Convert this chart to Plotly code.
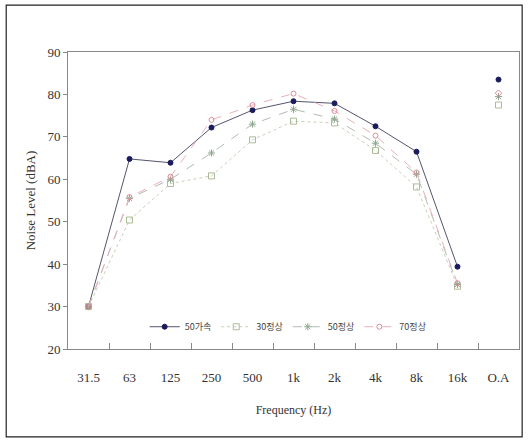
import plotly.graph_objects as go

categories = ["31.5", "63", "125", "250", "500", "1k", "2k", "4k", "8k", "16k", "O.A"]
band_cats = categories[:10]
oa_cat = ["O.A"]

accel50 = [30, 64.8, 63.9, 72.2, 76.3, 78.4, 77.9, 72.5, 66.5, 39.4]
steady30 = [30, 50.4, 59.0, 60.8, 69.3, 73.7, 73.3, 66.8, 58.2, 34.8]
steady50 = [30, 55.5, 60.0, 66.2, 73.0, 76.5, 74.2, 68.5, 61.2, 35.2]
steady70 = [30, 55.8, 60.6, 74.0, 77.5, 80.2, 76.1, 70.3, 61.6, 35.5]

oa_accel50 = [83.5]
oa_steady30 = [77.5]
oa_steady50 = [79.5]
oa_steady70 = [80.3]

names = ["50가속", "30정상", "50정상", "70정상"]
series = [accel50, steady30, steady50, steady70]
oa_vals = [oa_accel50, oa_steady30, oa_steady50, oa_steady70]
colors = ["#1b1b5e", "#aebb98", "#8fa890", "#e08a98"]
line_colors = ["#55556e", "#c8d0b8", "#b0bcb0", "#eab0bc"]
dashes = ["solid", "dot", "dash", "dash"]
symbols = ["circle", "square-open", "asterisk-open", "circle-open"]
oa_symbols = ["circle", "square-open", "asterisk-open", "diamond-open"]
sizes = [5, 6, 6, 5]

fig = go.Figure()
for n, s, c, lc, d, sym, sz in zip(names, series, colors, line_colors, dashes, symbols, sizes):
    fig.add_trace(go.Scatter(
        x=band_cats, y=s, name=n, mode="lines+markers",
        line=dict(color=lc, width=1, dash=d),
        marker=dict(color=c, symbol=sym, size=sz, line=dict(color=c, width=1)),
    ))
for n, v, c, sym, sz in zip(names, oa_vals, colors, oa_symbols, sizes):
    fig.add_trace(go.Scatter(
        x=oa_cat, y=v, name=n, mode="markers", showlegend=False,
        marker=dict(color=c, symbol=sym, size=sz, line=dict(color=c, width=1)),
    ))

font_serif = "Liberation Serif, Times New Roman, serif"
fig.update_layout(
    width=529, height=442,
    margin=dict(l=68, r=10, t=52, b=93),
    paper_bgcolor="white", plot_bgcolor="white",
    font=dict(family=font_serif, size=12, color="#333333"),
    showlegend=True,
    legend=dict(
        orientation="h", x=0.17, y=0.075, xanchor="left", yanchor="middle",
        bgcolor="rgba(0,0,0,0)",
        font=dict(family="Noto Sans CJK KR, " + font_serif, size=9, color="#444444"),
        itemwidth=30, tracegroupgap=0,
    ),
    xaxis=dict(
        type="category", categoryorder="array", categoryarray=categories,
        range=[-0.5, 10.5],
        showgrid=False, showline=True, linecolor="#888888", linewidth=1,
        mirror=True, ticks="inside", tickson="boundaries", ticklen=6,
        tickcolor="#888888", ticklabelstandoff=16,
        tickfont=dict(family=font_serif, size=13, color="#333333"),
        title=dict(text="Frequency (Hz)", font=dict(family=font_serif, size=12, color="#333333"), standoff=22),
        zeroline=False,
    ),
    yaxis=dict(
        range=[20, 90], dtick=10, showgrid=False, showline=True,
        linecolor="#888888", linewidth=1, mirror=True,
        ticks="outside", ticklen=4, tickcolor="#888888",
        tickfont=dict(family=font_serif, size=13, color="#333333"),
        title=dict(text="Noise Level (dBA)", font=dict(family=font_serif, size=13, color="#333333"), standoff=8),
        zeroline=False,
    ),
    shapes=[dict(type="rect", xref="paper", yref="paper",
                 x0=-0.137, x1=1.007, y0=-0.296, y1=1.158,
                 line=dict(color="#222222", width=1.2))],
)

fig.write_html("out.html")
